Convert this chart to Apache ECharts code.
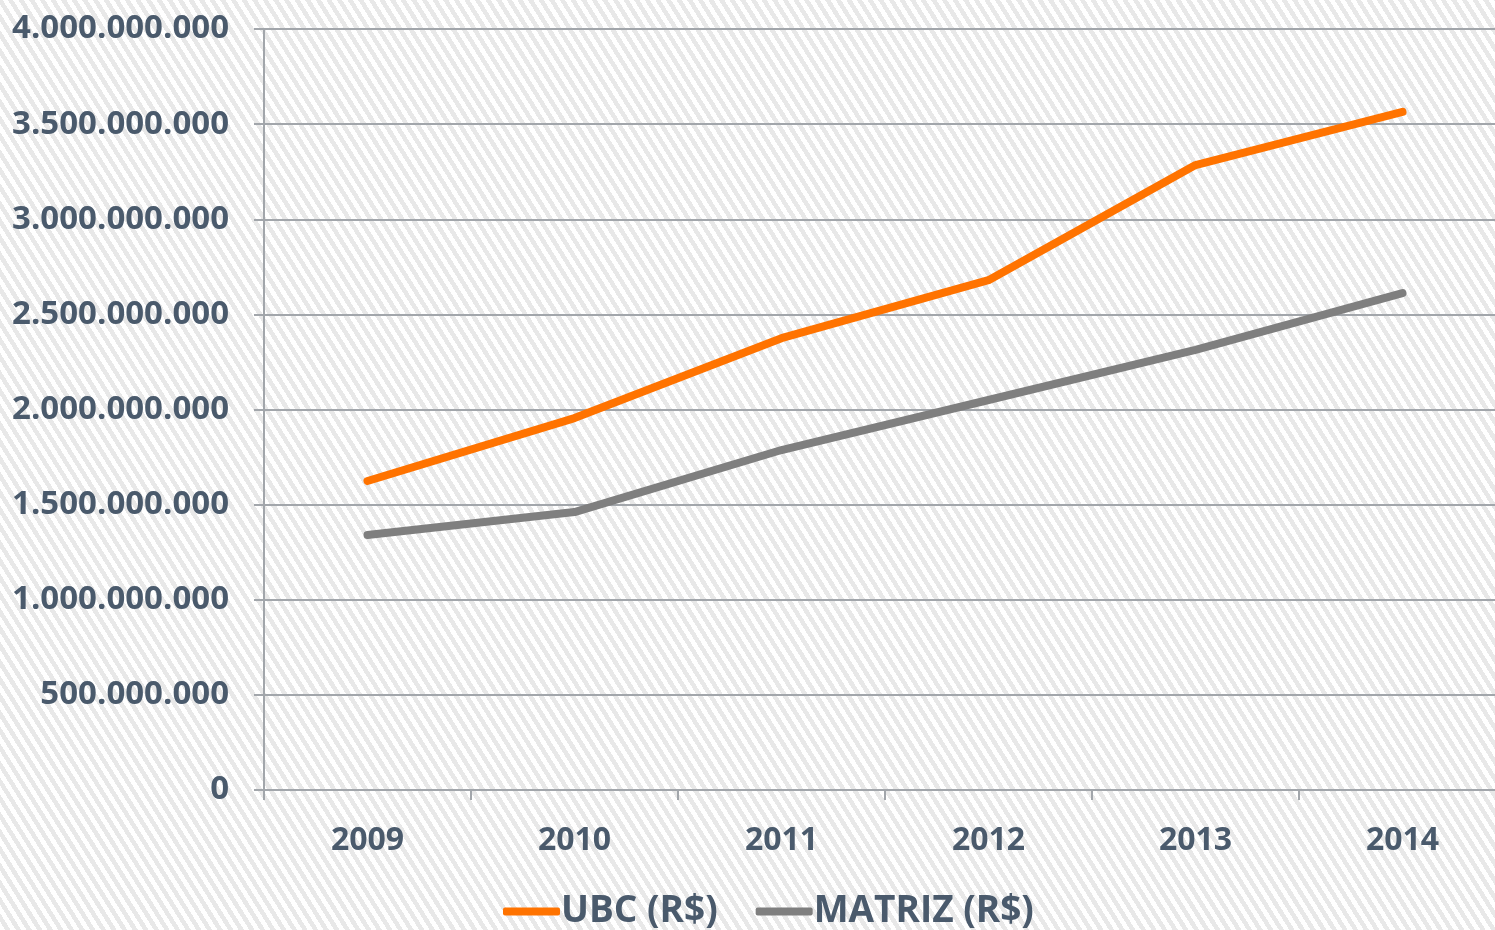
<!DOCTYPE html>
<html>
<head>
<meta charset="utf-8">
<script src="https://cdn.jsdelivr.net/npm/echarts@6/dist/echarts.min.js"></script>
<style>
html,body{margin:0;padding:0;width:1495px;height:930px;overflow:hidden;}
body{background:repeating-linear-gradient(58deg,#ffffff 0px,#ffffff 4.5px,#e8e8e8 4.5px,#e8e8e8 9px);}
#c{width:1495px;height:930px;}
</style>
</head>
<body>
<div id="c"></div>
<script>
const categories = ['2009','2010','2011','2012','2013','2014'];
const ubc = [1624000000, 1955000000, 2375000000, 2680000000, 3285000000, 3564000000];
const matriz = [1340000000, 1461000000, 1787000000, 2050000000, 2313000000, 2612000000];
const seriesNames = ['UBC (R$)', 'MATRIZ (R$)'];

const txt = '#4a5a6c';
const gridCol = '#a2a6ab';
const font = 'Open Sans';

function fmt(v){
  return String(Math.round(v)).replace(/\B(?=(\d{3})+(?!\d))/g, '.');
}

const chart = echarts.init(document.getElementById('c'));
chart.setOption({
  backgroundColor: 'transparent',
  animation: false,
  grid: {left: 264, top: 29, width: 1242, height: 761, containLabel: false, outerBoundsMode: 'none'},
  legend: {
    data: seriesNames,
    left: 498, top: 888,
    itemWidth: 57, itemHeight: 8, itemGap: 38,
    icon: 'roundRect',
    textStyle: {fontFamily: font, fontWeight: 'bold', fontSize: 37, color: txt, padding: [0,0,0,-4]}
  },
  xAxis: {
    type: 'category',
    data: categories,
    boundaryGap: true,
    axisLine: {lineStyle: {color: gridCol, width: 2}},
    axisTick: {show: true, length: 10, lineStyle: {color: gridCol, width: 2}},
    axisLabel: {fontFamily: font, fontWeight: 'bold', fontSize: 32, color: txt, margin: 35},
    splitLine: {show: false}
  },
  yAxis: {
    type: 'value',
    min: 0, max: 4000000000, interval: 500000000,
    axisLine: {show: true, lineStyle: {color: gridCol, width: 2}},
    axisTick: {show: true, length: 10, lineStyle: {color: gridCol, width: 2}},
    axisLabel: {fontFamily: font, fontWeight: 'bold', fontSize: 33, color: txt, margin: 35, formatter: fmt},
    splitLine: {show: true, lineStyle: {color: gridCol, width: 2}}
  },
  series: [
    {name: seriesNames[0], type: 'line', data: ubc, showSymbol: false, symbol: 'none',
     lineStyle: {color: '#ff7300', width: 8, cap: 'round', join: 'round'}, itemStyle: {color: '#ff7300'}},
    {name: seriesNames[1], type: 'line', data: matriz, showSymbol: false, symbol: 'none',
     lineStyle: {color: '#7f7f7f', width: 8, cap: 'round', join: 'round'}, itemStyle: {color: '#7f7f7f'}}
  ]
});
</script>
</body>
</html>
